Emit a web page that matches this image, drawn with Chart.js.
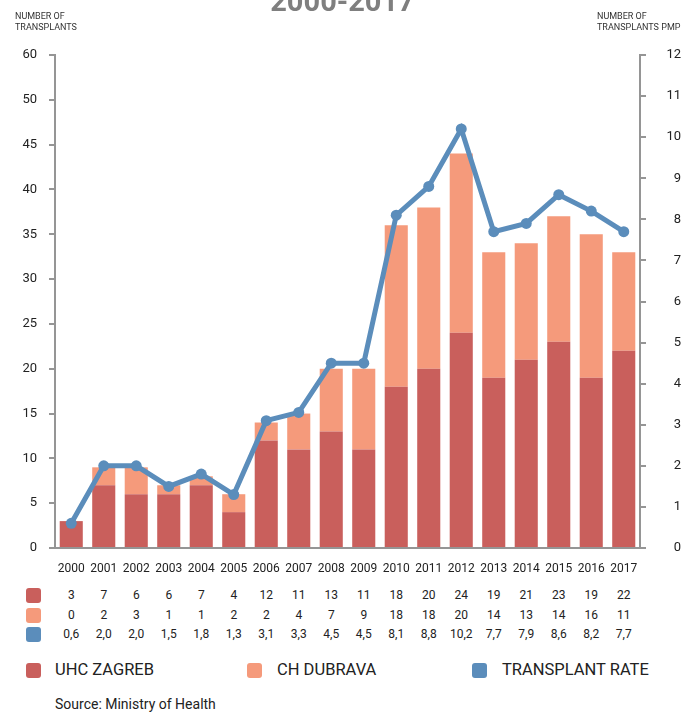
<!DOCTYPE html>
<html>
<head>
<meta charset="utf-8">
<script src="https://cdn.jsdelivr.net/npm/chart.js@4"></script>
<style>
  body { margin: 0; background: #fff; font-family: Roboto, "Open Sans", sans-serif; color: #333; }
  #wrap { position: relative; width: 685px; height: 713px; overflow: hidden; }
  #title { position: absolute; top: -16px; left: 0; width: 685px; text-align: center; font-size: 29px; font-weight: bold; color: #7f7f7f; }
  .axt { position: absolute; top: 11px; font-size: 9px; line-height: 11px; color: #333; }
  #box { position: absolute; left: 0; top: 0; width: 685px; height: 580px; }
  .cell { position: absolute; width: 30px; margin-left: -15px; text-align: center; font-size: 12px; line-height: 15px; color: #222; }
  .sw { position: absolute; width: 15px; height: 15px; border-radius: 3px; }
  .leg { position: absolute; top: 660px; font-size: 16.5px; color: #222; }
  #src { position: absolute; left: 55px; top: 696px; font-size: 14px; color: #222; }
</style>
</head>
<body>
<div id="wrap">
  <div id="box"><canvas id="chart"></canvas></div>
  <div id="title">2000-2017</div>
  <div class="axt" style="left:15px">NUMBER OF<br>TRANSPLANTS</div>
  <div class="axt" style="left:597px">NUMBER OF<br>TRANSPLANTS PMP</div>
  <div id="table"></div>
  <div class="sw" style="left:26px;top:663px;background:#c95f5c"></div>
  <div class="leg" style="left:55px">UHC ZAGREB</div>
  <div class="sw" style="left:247px;top:663px;background:#f59a7b"></div>
  <div class="leg" style="left:277px">CH DUBRAVA</div>
  <div class="sw" style="left:472px;top:663px;background:#5b8dbb"></div>
  <div class="leg" style="left:502px">TRANSPLANT RATE</div>
  <div id="src">Source: Ministry of Health</div>
</div>
<script>
// --- Data ---
const years = ['2000','2001','2002','2003','2004','2005','2006','2007','2008',
               '2009','2010','2011','2012','2013','2014','2015','2016','2017'];
const uhcZagreb = [3, 7, 6, 6, 7, 4, 12, 11, 13, 11, 18, 20, 24, 19, 21, 23, 19, 22];
const chDubrava = [0, 2, 3, 1, 1, 2, 2, 4, 7, 9, 18, 18, 20, 14, 13, 14, 16, 11];
const transplantRate = [0.6, 2.0, 2.0, 1.5, 1.8, 1.3, 3.1, 3.3, 4.5, 4.5, 8.1, 8.8, 10.2, 7.7, 7.9, 8.6, 8.2, 7.7];
// left axis labels as printed in the original (top tick reads 60)
const leftTickLabels = ['0','5','10','15','20','25','30','35','40','45','50','60'];

const RED = '#c95f5c', SALMON = '#f59a7b', BLUE = '#5b8dbb', AXIS = '#959595';

const chart = new Chart(document.getElementById('chart'), {
    type: 'bar',
    data: {
        labels: years,
        datasets: [
            { type: 'line', label: 'TRANSPLANT RATE', data: transplantRate, yAxisID: 'y1',
              borderColor: BLUE, backgroundColor: BLUE, borderWidth: 5, pointRadius: 5.5,
              pointBackgroundColor: BLUE, pointBorderWidth: 0, tension: 0, order: 0 },
            { label: 'UHC ZAGREB', data: uhcZagreb, backgroundColor: RED, yAxisID: 'y', order: 1 },
            { label: 'CH DUBRAVA', data: chDubrava, backgroundColor: SALMON, yAxisID: 'y', order: 2 }
        ]
    },
    options: {
        responsive: true,
        maintainAspectRatio: false,
        animation: false,
        datasets: { bar: { barPercentage: 0.71, categoryPercentage: 1 } },
        layout: { padding: { top: 55, right: 4, left: 0, bottom: 0 } },
        plugins: { legend: { display: false }, tooltip: { enabled: false } },
        scales: {
            x: {
                stacked: true,
                grid: { display: false, drawTicks: false },
                border: { display: true, color: AXIS, width: 2 },
                ticks: { color: '#222', font: { size: 12, family: 'Roboto' }, padding: 14, maxRotation: 0, autoSkip: false },
                afterFit: s => { s.height = 32; }
            },
            y: {
                stacked: true, position: 'left', min: 0, max: 55,
                grid: { drawOnChartArea: false, drawTicks: true, tickLength: 6, color: AXIS, lineWidth: 2 },
                border: { display: true, color: AXIS, width: 2 },
                ticks: { stepSize: 5, padding: 12, color: '#222', font: { size: 13, family: 'Roboto' },
                         callback: (v, i) => leftTickLabels[i] },
                afterFit: s => { s.width = 55; }
            },
            y1: {
                position: 'right', min: 0, max: 12,
                grid: { drawOnChartArea: false, drawTicks: true, tickLength: 6, color: AXIS, lineWidth: 2 },
                border: { display: true, color: AXIS, width: 2 },
                ticks: { stepSize: 1, padding: 10, color: '#222', crossAlign: 'far', font: { size: 13, family: 'Roboto' } },
                afterFit: s => { s.width = 41; }
            }
        }
    }
});

// data table under the axis, aligned to the category centres
const table = document.getElementById('table');
const rows = [
    { vals: uhcZagreb, color: RED, top: 588 },
    { vals: chDubrava, color: SALMON, top: 608 },
    { vals: transplantRate.map(v => v.toFixed(1).replace('.', ',')), color: BLUE, top: 627 }
];
rows.forEach(r => {
    table.innerHTML += `<div class="sw" style="left:26px;top:${r.top}px;background:${r.color}"></div>`;
    r.vals.forEach((v, i) => {
        const x = chart.scales.x.getPixelForValue(i);
        table.innerHTML += `<div class="cell" style="left:${x}px;top:${r.top}px">${v}</div>`;
    });
});
</script>
</body>
</html>
